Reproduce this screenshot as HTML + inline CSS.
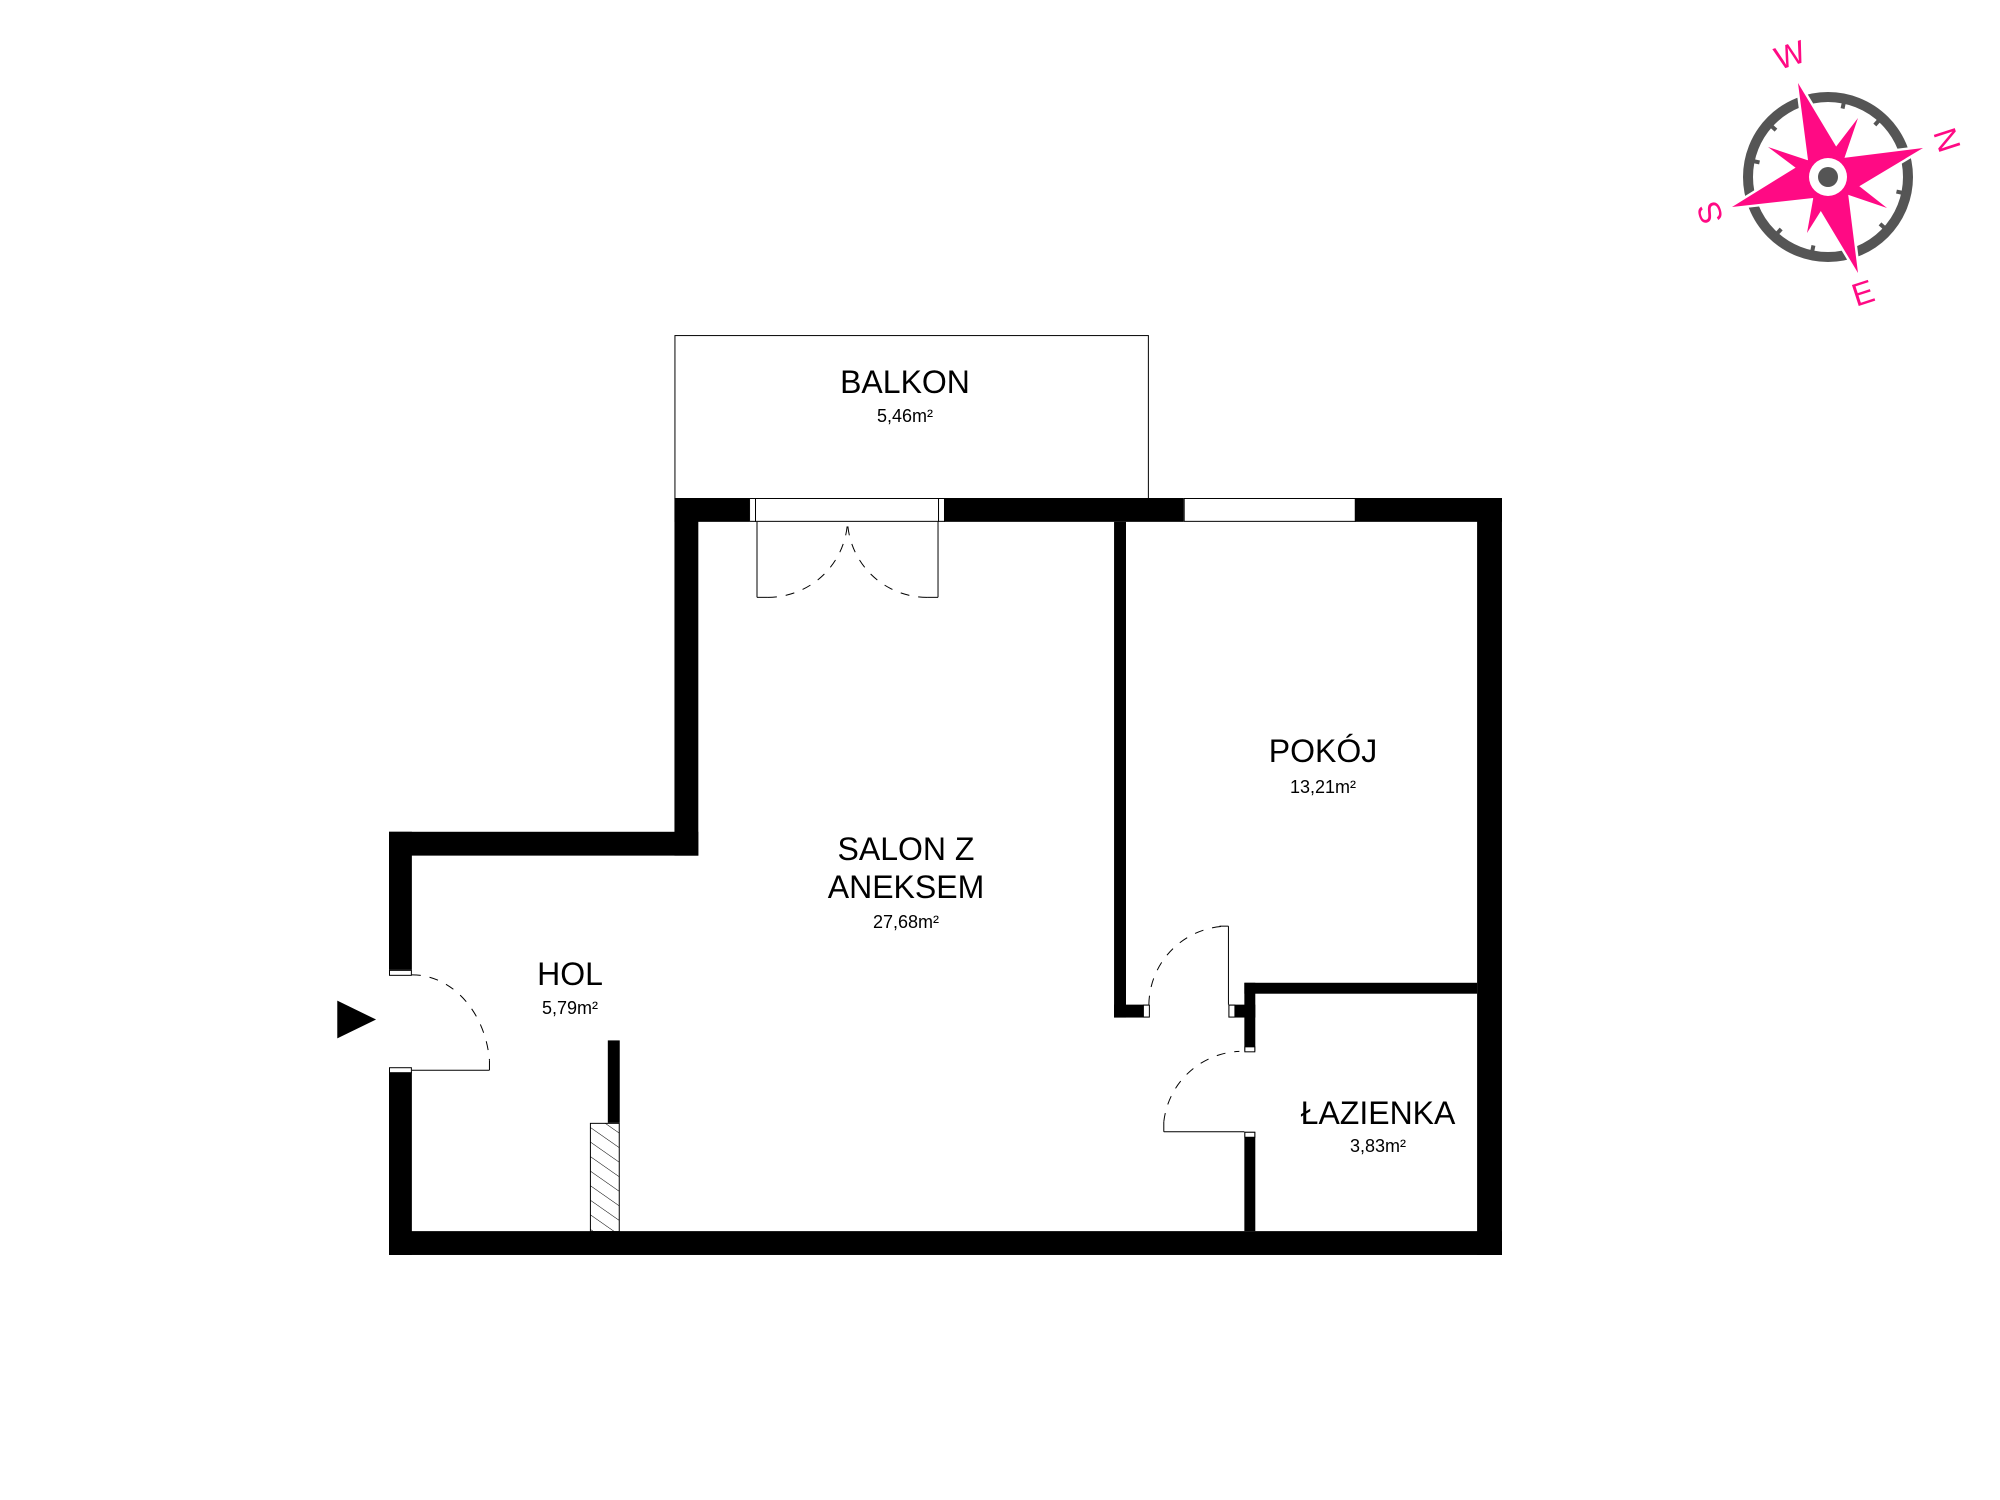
<!DOCTYPE html>
<html><head><meta charset="utf-8"><style>
html,body{margin:0;padding:0;background:#fff;}
svg{display:block;}
text{font-family:"Liberation Sans",sans-serif;fill:#000;}
</style></head><body>
<svg width="2000" height="1500" viewBox="0 0 2000 1500" xmlns="http://www.w3.org/2000/svg">
<defs>
<pattern id="h" patternUnits="userSpaceOnUse" width="12" height="12" patternTransform="rotate(-55)">
<line x1="0" y1="0" x2="0" y2="12" stroke="#000" stroke-width="1"/>
</pattern>
</defs>
<g transform="translate(389 498) scale(0.9946 0.9934) translate(-389 -498)">
<rect x="676.5" y="334.5" width="476" height="164" fill="none" stroke="#000" stroke-width="1"/>
<g fill="#000">
<rect x="676" y="498" width="75" height="24"/>
<rect x="947" y="498" width="241" height="24"/>
<rect x="1360" y="498" width="148" height="24"/>
<rect x="1483" y="498" width="25" height="762"/>
<rect x="389" y="1236" width="1119" height="24"/>
<rect x="676" y="498" width="24" height="360"/>
<rect x="389" y="834" width="311" height="24"/>
<rect x="389" y="834" width="23" height="139"/>
<rect x="389" y="1076" width="23" height="184"/>
<rect x="1118" y="522" width="12" height="499"/>
<rect x="1118" y="1008" width="35" height="13"/>
<rect x="1233" y="1008" width="27" height="13"/>
<rect x="1249" y="986" width="11" height="69"/>
<rect x="1249" y="986" width="234" height="11"/>
<rect x="1249" y="1136" width="11" height="100"/>
<rect x="609" y="1044" width="12" height="83"/>
</g>
<g fill="#fff" stroke="#000" stroke-width="1">
<rect x="1147.5" y="1008.5" width="6" height="12"/>
<rect x="1233.5" y="1008.5" width="6" height="12"/>
<rect x="1249.5" y="1050.5" width="10" height="5"/>
<rect x="1249.5" y="1136.5" width="10" height="5"/>
<rect x="389.5" y="973.5" width="22" height="5"/>
<rect x="389.5" y="1071.5" width="22" height="5"/>
<rect x="751.5" y="498.5" width="6" height="23"/>
<rect x="941.5" y="498.5" width="6" height="23"/>
<rect x="757.5" y="498.5" width="184" height="23"/>
<rect x="1188.5" y="498.5" width="172" height="23"/>
</g>
<rect x="591.5" y="1127.5" width="29" height="109" fill="url(#h)" stroke="#000" stroke-width="1"/>
<g fill="none" stroke="#000" stroke-width="1">
<line x1="759" y1="522" x2="759" y2="598"/><line x1="759" y1="598" x2="770" y2="598"/>
<line x1="941" y1="522" x2="941" y2="598"/><line x1="941" y1="598" x2="930" y2="598"/>
<line x1="1233" y1="929" x2="1233" y2="1008"/><line x1="1233" y1="929" x2="1224" y2="929"/>
<line x1="1168" y1="1136" x2="1249" y2="1136"/><line x1="1168" y1="1136" x2="1168" y2="1126"/>
<line x1="412" y1="1074" x2="490" y2="1074"/><line x1="490" y1="1074" x2="490" y2="1064"/>
</g>
<g fill="none" stroke="#000" stroke-width="1" stroke-dasharray="9,9">
<path d="M770 598 A 80 80 0 0 0 850 522"/>
<path d="M930 598 A 80 80 0 0 1 850 522"/>
<path d="M1153 1008 A 80 80 0 0 1 1233 929"/>
<path d="M1168 1126 A 80 80 0 0 1 1244 1055"/>
<path d="M412 978 A 78 96 0 0 1 490 1064"/>
</g>
<polygon points="337,1004 376,1023 337,1042" fill="#000"/>
</g>
<g text-anchor="middle">
<text x="905" y="393" font-size="32">BALKON</text>
<text x="905" y="422" font-size="18">5,46m²</text>
<text x="1323" y="762" font-size="32">POKÓJ</text>
<text x="1323" y="793" font-size="18">13,21m²</text>
<text x="906" y="860" font-size="32">SALON Z</text>
<text x="906" y="898" font-size="32">ANEKSEM</text>
<text x="906" y="928" font-size="18">27,68m²</text>
<text x="570" y="985" font-size="32">HOL</text>
<text x="570" y="1014" font-size="18">5,79m²</text>
<text x="1378" y="1124" font-size="32">ŁAZIENKA</text>
<text x="1378" y="1152" font-size="18">3,83m²</text>
</g>
<g>
<circle cx="1828" cy="177" r="80" fill="none" stroke="#555" stroke-width="10"/>
<g stroke="#555" stroke-width="4">
<line x1="1828" y1="97" x2="1828" y2="107" transform="rotate(12 1828 177)"/>
<line x1="1828" y1="97" x2="1828" y2="107" transform="rotate(42 1828 177)"/>
<line x1="1828" y1="97" x2="1828" y2="107" transform="rotate(102 1828 177)"/>
<line x1="1828" y1="97" x2="1828" y2="107" transform="rotate(132 1828 177)"/>
<line x1="1828" y1="97" x2="1828" y2="107" transform="rotate(192 1828 177)"/>
<line x1="1828" y1="97" x2="1828" y2="107" transform="rotate(222 1828 177)"/>
<line x1="1828" y1="97" x2="1828" y2="107" transform="rotate(282 1828 177)"/>
<line x1="1828" y1="97" x2="1828" y2="107" transform="rotate(312 1828 177)"/>
</g>
<polygon points="1798,83 1843,158 1923,148 1848,193 1858,273 1813,198 1732,207 1808,160" fill="#ff0a84" stroke="#fff" stroke-width="5"/>
<polygon points="1768,147 1822,165 1858,118 1840,171 1887,208 1834,190 1807,233 1816,183" fill="#ff0a84"/>
<polygon points="1798,83 1843,158 1923,148 1848,193 1858,273 1813,198 1732,207 1808,160" fill="#ff0a84"/>
<circle cx="1828" cy="177" r="19" fill="#fff"/>
<circle cx="1828" cy="177" r="10" fill="#555"/>
<g font-size="32" text-anchor="middle">
<text x="1790" y="66" transform="rotate(-18 1790 55)" style="fill:#ff0a84">W</text>
<text x="1947" y="151" transform="rotate(72 1947 140)" style="fill:#ff0a84">N</text>
<text x="1710" y="224" transform="rotate(-108 1710 213)" style="fill:#ff0a84">S</text>
<text x="1863" y="304" transform="rotate(-18 1863 293)" style="fill:#ff0a84">E</text>
</g>
</g>
</svg>
</body></html>
